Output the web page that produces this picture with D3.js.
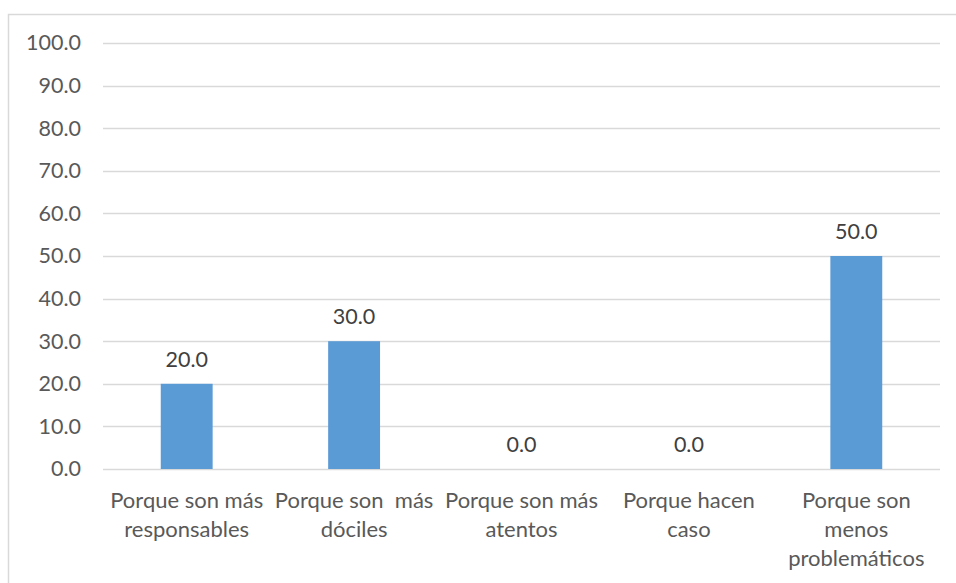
<!DOCTYPE html>
<html>
  <head>
    <meta charset="utf-8">
    <script src="https://d3js.org/d3.v7.min.js"></script>
    <style>
      body { margin: 0; background: #fff; }
      text { font-family: Lato, "Open Sans", sans-serif; }
      .axis text { font-size: 21.5px; fill: #595959; }
      .cat { font-size: 22px; fill: #595959; }
      .value { font-size: 21.5px; fill: #404040; }
    </style>
  </head>
  <body>
    <svg width="956" height="583"></svg>
    <script>
      const categories = [
        "Porque son más\nresponsables",
        "Porque son  más\ndóciles",
        "Porque son más\natentos",
        "Porque hacen\ncaso",
        "Porque son\nmenos\nproblemáticos"
      ];
      const values = [20, 30, 0, 0, 50];
      const yTicks = [0, 10, 20, 30, 40, 50, 60, 70, 80, 90, 100];

      const svg = d3.select("svg");
      const plotLeft = 103, plotRight = 940, plotTop = 43, plotBottom = 469;

      // chart frame
      svg.append("rect")
        .attr("x", 8.5).attr("y", 14.5)
        .attr("width", 960).attr("height", 600)
        .attr("fill", "none").attr("stroke", "#d9d9d9").attr("stroke-width", 1.5);

      const x = d3.scaleBand().domain(categories).range([plotLeft, plotRight]).paddingInner(0.69).paddingOuter(0.345);
      const y = d3.scaleLinear().domain([0, 100]).range([plotBottom, plotTop]);

      svg.append("g").selectAll("line").data(yTicks).join("line")
        .attr("x1", plotLeft).attr("x2", plotRight)
        .attr("y1", d => Math.round(y(d)) + 0.5).attr("y2", d => Math.round(y(d)) + 0.5)
        .attr("stroke", "#d9d9d9").attr("stroke-width", 1.5);

      const yAxis = svg.append("g").attr("class", "axis")
        .attr("transform", `translate(${plotLeft}, 0)`)
        .call(d3.axisLeft(y).tickValues(yTicks).tickFormat(d3.format(".1f")).tickSize(0).tickPadding(22));
      yAxis.select(".domain").remove();

      svg.append("g").selectAll("rect").data(values).join("rect")
        .attr("x", (d, i) => x(categories[i]))
        .attr("width", x.bandwidth())
        .attr("y", d => y(d))
        .attr("height", d => y(0) - y(d))
        .attr("fill", "#5b9bd5");

      svg.append("g").selectAll("text").data(values).join("text")
        .attr("class", "value")
        .attr("x", (d, i) => x(categories[i]) + x.bandwidth() / 2)
        .attr("y", d => y(d) - 17)
        .attr("text-anchor", "middle")
        .text(d => d3.format(".1f")(d));

      const cat = svg.append("g").selectAll("text").data(categories).join("text")
        .attr("class", "cat")
        .attr("text-anchor", "middle")
        .attr("x", d => x(d) + x.bandwidth() / 2)
        .attr("y", 508);
      cat.selectAll("tspan").data(d => d.split("\n")).join("tspan")
        .attr("x", function() { return this.parentNode.getAttribute("x"); })
        .attr("dy", (d, i) => i === 0 ? 0 : 29)
        .style("white-space", "pre")
        .text(d => d);
    </script>
  </body>
</html>
